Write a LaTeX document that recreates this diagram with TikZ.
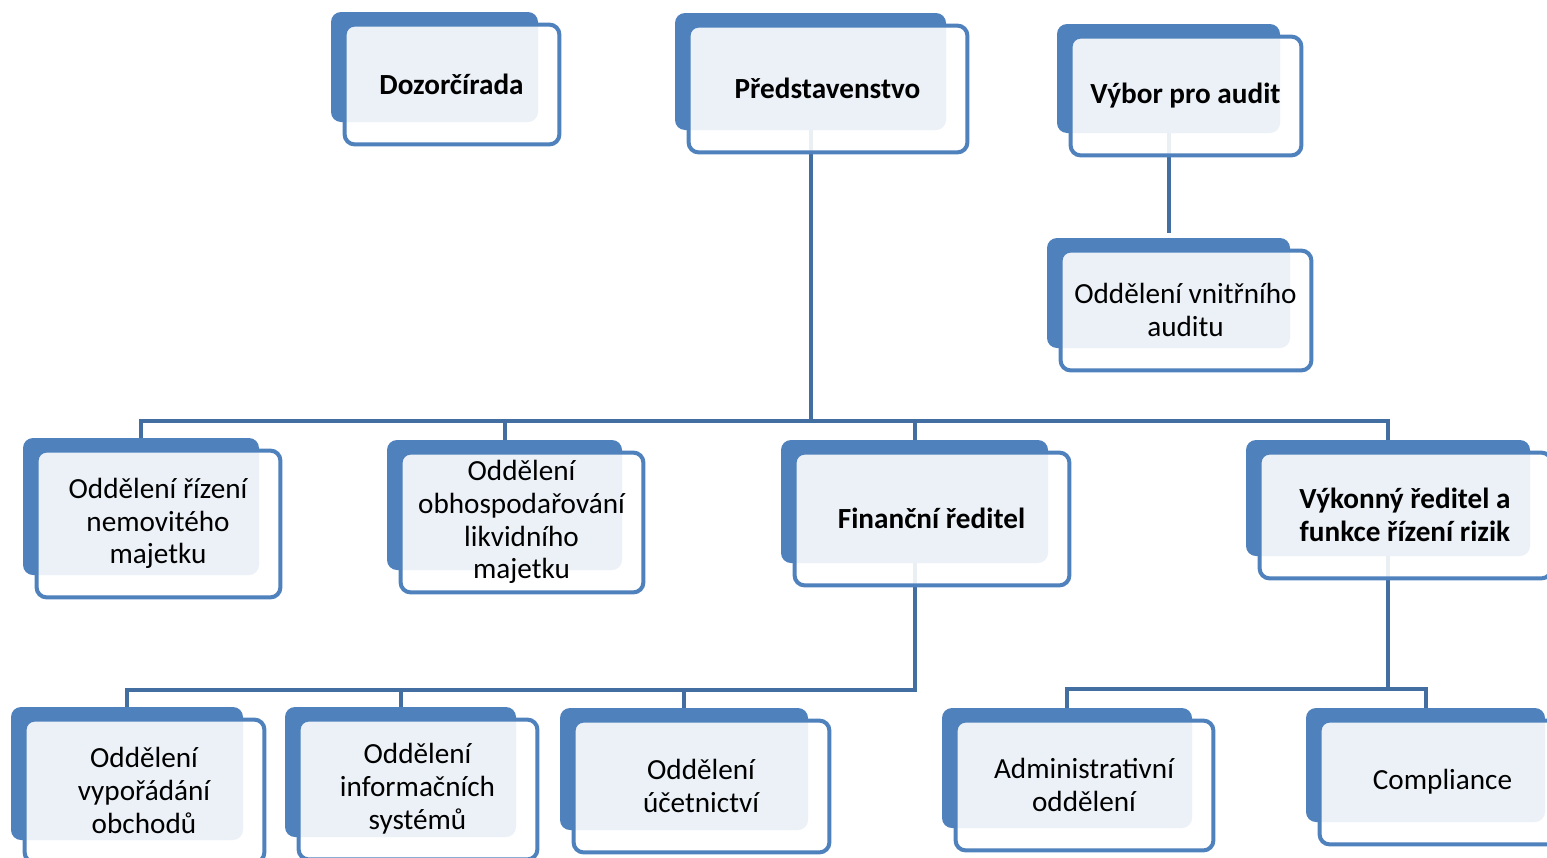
\documentclass[tikz,border=0pt]{standalone}
\usepackage{fontspec}
\setmainfont{Carlito}
\usetikzlibrary{
    calc,
    backgrounds
}
\definecolor{boxcol}{HTML}{4F81BD}
\definecolor{linecol}{HTML}{436EA1}

\tikzset{
    blubox/.style n args={2}{
        fill=boxcol, rounded corners=5pt, inner sep=0pt,
        minimum width=#1*0.5pt, minimum height=#2*0.5pt
    },
}

\begin{document}
\begin{tikzpicture}[
    x=0.5pt, y=-0.5pt,
    frame/.style={
        draw=boxcol, line width=2pt, rounded corners=5pt,
        fill=white, fill opacity=0.89
    },
    btext/.style={
        align=center, font=\fontsize{14.6pt}{16.4pt}\selectfont
    },
    bbold/.style={btext, font=\fontsize{14.6pt}{16.4pt}\selectfont\bfseries},
    conn/.style={draw=linecol, line width=2pt},
]
\useasboundingbox (0,0) rectangle (1547,857);

% ── Back boxes (blue) ──
\node[blubox={207}{110}] (doz) at (434.5, 67) {};
\node[blubox={271}{117}] (pred) at (810.5, 71.5) {};
\node[blubox={223}{109}] (vybor) at (1168.5, 78.5) {};
\node[blubox={243}{110}] (audit) at (1168.5, 293) {};

\node[blubox={236}{137}] (nemov) at (141, 506.5) {};
\node[blubox={235}{130}] (likv) at (504.5, 505) {};
\node[blubox={267}{123}] (fin) at (914.5, 501.5) {};
\node[blubox={284}{116}] (vyk) at (1388, 498) {};

\node[blubox={232}{133}] (vypor) at (127, 773.5) {};
\node[blubox={231}{130}] (info) at (400.5, 772) {};
\node[blubox={248}{122}] (ucet) at (684, 769) {};
\node[blubox={250}{120}] (admin) at (1067, 768) {};
\node[blubox={239}{114}] (compl) at (1425.5, 765) {};

% ── Front frames ──
\foreach \b in {doz,pred,vybor,audit,nemov,likv,fin,vyk,vypor,info,ucet,admin,compl}
    \path[frame] ($(\b.north west)+(14,13)$) rectangle ($(\b.south east)+(21,22)$);

% ── Texts ──
\node[bbold] (dozt) at ($(doz)+(17,17)$) {Dozorčírada};
\node[bbold] (predt) at ($(pred)+(17,17)$) {Představenstvo};
\node[bbold] (vybort) at ($(vybor)+(17,17)$) {Výbor pro audit};
\node[btext] (auditt) at ($(audit)+(17,17)$) {Oddělení vnitřního\\auditu};

\node[btext] (nemovt) at ($(nemov)+(17,17)$) {Oddělení řízení\\nemovitého\\majetku};
\node[btext] (likvt) at ($(likv)+(17,17)$) {Oddělení\\obhospodařování\\likvidního\\majetku};
\node[bbold] (fint) at ($(fin)+(17,17)$) {Finanční ředitel};
\node[bbold] (vykt) at ($(vyk)+(17,17)$) {Výkonný ředitel a\\funkce řízení rizik};

\node[btext] (vyport) at ($(vypor)+(17,17)$) {Oddělení\\vypořádání\\obchodů};
\node[btext] (infot) at ($(info)+(17,17)$) {Oddělení\\informačních\\systémů};
\node[btext] (ucett) at ($(ucet)+(17,17)$) {Oddělení\\účetnictví};
\node[btext] (admint) at ($(admin)+(17,17)$) {Administrativní\\oddělení};
\node[btext] (complt) at ($(compl)+(17,17)$) {Compliance};

% ── Connectors (behind the frames) ──
\coordinate (topbus) at (0, 421);
\coordinate (finbus) at (0, 690);
\coordinate (vykbus) at (0, 689);

\begin{scope}[on background layer]
    \draw[conn] (pred.south) -- (pred.south |- topbus);
    \draw[conn] (nemov.north) -- (nemov.north |- topbus)
        -- (vyk.north |- topbus) -- (vyk.north);
    \draw[conn] (likv.north) -- (likv.north |- topbus);
    \draw[conn] (fin.north) -- (fin.north |- topbus);

    \draw[conn, shorten >=2.5pt] (vybor.south) -- (audit.north);

    \draw[conn] (fin.south) -- (fin.south |- finbus)
        -- (vypor.north |- finbus) -- (vypor.north);
    \draw[conn] (info.north) -- (info.north |- finbus);
    \draw[conn] (ucet.north) -- (ucet.north |- finbus);

    \draw[conn] (vyk.south) -- (vyk.south |- vykbus);
    \draw[conn] (admin.north) -- (admin.north |- vykbus)
        -- (compl.north |- vykbus) -- (compl.north);
\end{scope}

\end{tikzpicture}
\end{document}
